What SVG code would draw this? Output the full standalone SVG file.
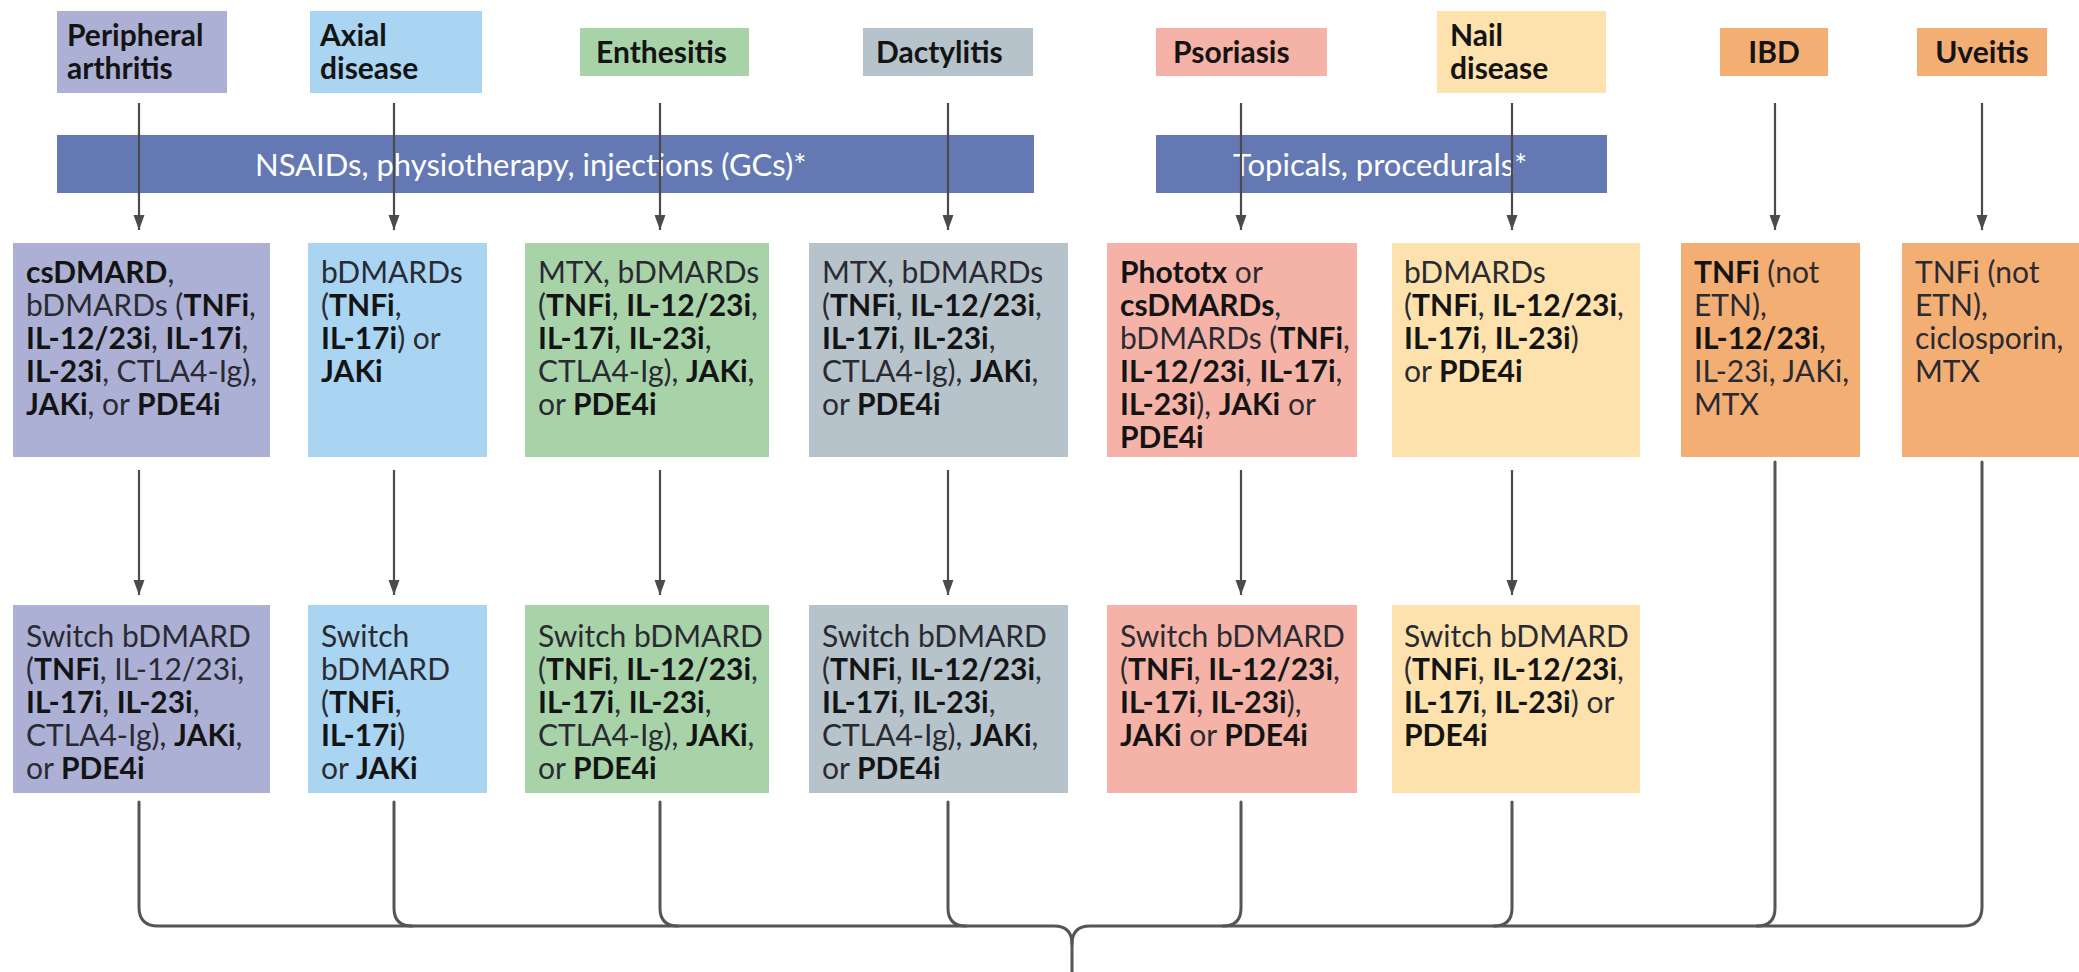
<svg xmlns="http://www.w3.org/2000/svg" width="2079" height="972" viewBox="0 0 2079 972">
<style>
text{font-family:Lato,"Open Sans","Liberation Sans",sans-serif;font-size:30px;fill:#2a2a32}
.b{font-weight:700;fill:#141414}
.h{font-weight:700;fill:#141414;font-size:30px}
.bar{fill:#6479b3}
.bt{fill:#ffffff;font-size:31px}
.pa{fill:#acb0d5}.ax{fill:#a9d5f2}.en{fill:#a8d3a9}.da{fill:#b7c3ca}
.ps{fill:#f5b3a8}.na{fill:#fde2ad}.or{fill:#f3ae74}
.arr{stroke:#4b4b4b;stroke-width:2.2;fill:none;marker-end:url(#ah)}
.ln{stroke:#555;stroke-width:3;fill:none;stroke-linecap:round}
</style>
<defs>
<marker id="ah" markerUnits="userSpaceOnUse" markerWidth="16" markerHeight="12" refX="15" refY="5.5" orient="auto" viewBox="0 0 16 11">
<path d="M0,0 L15,5.5 L0,11 Z" fill="#4b4b4b"/>
</marker>
</defs>
<rect width="2079" height="972" fill="#ffffff"/>

<!-- header nodes -->
<g id="h-peripheral"><rect class="pa" x="57" y="11" width="170" height="82"/><text class="h" x="67" y="46">Peripheral</text><text class="h" x="67" y="79">arthritis</text></g>
<g id="h-axial"><rect class="ax" x="310" y="11" width="172" height="82"/><text class="h" x="320" y="46">Axial</text><text class="h" x="320" y="79">disease</text></g>
<g id="h-enthesitis"><rect class="en" x="580" y="28" width="169" height="48"/><text class="h" x="596" y="63">Enthesitis</text></g>
<g id="h-dactylitis"><rect class="da" x="863" y="28" width="170" height="48"/><text class="h" x="876" y="63">Dactylitis</text></g>
<g id="h-psoriasis"><rect class="ps" x="1156" y="28" width="171" height="48"/><text class="h" x="1173" y="63">Psoriasis</text></g>
<g id="h-nail"><rect class="na" x="1437" y="11" width="169" height="82"/><text class="h" x="1450" y="46">Nail</text><text class="h" x="1450" y="79">disease</text></g>
<g id="h-ibd"><rect class="or" x="1720" y="28" width="108" height="48"/><text class="h" x="1774" y="63" text-anchor="middle">IBD</text></g>
<g id="h-uveitis"><rect class="or" x="1917" y="28" width="130" height="48"/><text class="h" x="1982" y="63" text-anchor="middle">Uveitis</text></g>

<!-- bars -->
<g id="bar-nsaids"><rect class="bar" x="57" y="135" width="977" height="58"/><text class="bt" x="255" y="176">NSAIDs, physiotherapy, injections (GCs)*</text></g>
<g id="bar-topicals"><rect class="bar" x="1156" y="135" width="451" height="58"/><text class="bt" x="1233" y="176">Topicals, procedurals*</text></g>

<!-- first-line treatment nodes -->
<g id="t1-peripheral"><rect class="pa" x="13" y="243" width="257" height="214"/>
<text x="26" y="283"><tspan class="b">csDMARD</tspan>,</text>
<text x="26" y="316">bDMARDs (<tspan class="b">TNFi</tspan>,</text>
<text x="26" y="349"><tspan class="b">IL-12/23i</tspan>, <tspan class="b">IL-17i</tspan>,</text>
<text x="26" y="382"><tspan class="b">IL-23i</tspan>, CTLA4-Ig),</text>
<text x="26" y="415"><tspan class="b">JAKi</tspan>, or <tspan class="b">PDE4i</tspan></text></g>
<g id="t1-axial"><rect class="ax" x="308" y="243" width="179" height="214"/>
<text x="321" y="283">bDMARDs</text>
<text x="321" y="316">(<tspan class="b">TNFi</tspan>,</text>
<text x="321" y="349"><tspan class="b">IL-17i</tspan>) or</text>
<text x="321" y="382"><tspan class="b">JAKi</tspan></text></g>
<g id="t1-enthesitis"><rect class="en" x="525" y="243" width="244" height="214"/>
<text x="538" y="283">MTX, bDMARDs</text>
<text x="538" y="316">(<tspan class="b">TNFi</tspan>, <tspan class="b">IL-12/23i</tspan>,</text>
<text x="538" y="349"><tspan class="b">IL-17i</tspan>, <tspan class="b">IL-23i</tspan>,</text>
<text x="538" y="382">CTLA4-Ig), <tspan class="b">JAKi</tspan>,</text>
<text x="538" y="415">or <tspan class="b">PDE4i</tspan></text></g>
<g id="t1-dactylitis"><rect class="da" x="809" y="243" width="259" height="214"/>
<text x="822" y="283">MTX, bDMARDs</text>
<text x="822" y="316">(<tspan class="b">TNFi</tspan>, <tspan class="b">IL-12/23i</tspan>,</text>
<text x="822" y="349"><tspan class="b">IL-17i</tspan>, <tspan class="b">IL-23i</tspan>,</text>
<text x="822" y="382">CTLA4-Ig), <tspan class="b">JAKi</tspan>,</text>
<text x="822" y="415">or <tspan class="b">PDE4i</tspan></text></g>
<g id="t1-psoriasis"><rect class="ps" x="1107" y="243" width="250" height="214"/>
<text x="1120" y="283"><tspan class="b">Phototx</tspan> or</text>
<text x="1120" y="316"><tspan class="b">csDMARDs</tspan>,</text>
<text x="1120" y="349">bDMARDs (<tspan class="b">TNFi</tspan>,</text>
<text x="1120" y="382"><tspan class="b">IL-12/23i</tspan>, <tspan class="b">IL-17i</tspan>,</text>
<text x="1120" y="415"><tspan class="b">IL-23i</tspan>), <tspan class="b">JAKi</tspan> or</text>
<text x="1120" y="448"><tspan class="b">PDE4i</tspan></text></g>
<g id="t1-nail"><rect class="na" x="1392" y="243" width="248" height="214"/>
<text x="1404" y="283">bDMARDs</text>
<text x="1404" y="316">(<tspan class="b">TNFi</tspan>, <tspan class="b">IL-12/23i</tspan>,</text>
<text x="1404" y="349"><tspan class="b">IL-17i</tspan>, <tspan class="b">IL-23i</tspan>)</text>
<text x="1404" y="382">or <tspan class="b">PDE4i</tspan></text></g>
<g id="t1-ibd"><rect class="or" x="1681" y="243" width="179" height="214"/>
<text x="1694" y="283"><tspan class="b">TNFi</tspan> (not</text>
<text x="1694" y="316">ETN),</text>
<text x="1694" y="349"><tspan class="b">IL-12/23i</tspan>,</text>
<text x="1694" y="382">IL-23i, JAKi,</text>
<text x="1694" y="415">MTX</text></g>
<g id="t1-uveitis"><rect class="or" x="1902" y="243" width="177" height="214"/>
<text x="1915" y="283">TNFi (not</text>
<text x="1915" y="316">ETN),</text>
<text x="1915" y="349">ciclosporin,</text>
<text x="1915" y="382">MTX</text></g>

<!-- second-line nodes -->
<g id="t2-peripheral"><rect class="pa" x="13" y="605" width="257" height="188"/>
<text x="26" y="647">Switch bDMARD</text>
<text x="26" y="680">(<tspan class="b">TNFi</tspan>, IL-12/23i,</text>
<text x="26" y="713"><tspan class="b">IL-17i</tspan>, <tspan class="b">IL-23i</tspan>,</text>
<text x="26" y="746">CTLA4-Ig), <tspan class="b">JAKi</tspan>,</text>
<text x="26" y="779">or <tspan class="b">PDE4i</tspan></text></g>
<g id="t2-axial"><rect class="ax" x="308" y="605" width="179" height="188"/>
<text x="321" y="647">Switch</text>
<text x="321" y="680">bDMARD</text>
<text x="321" y="713">(<tspan class="b">TNFi</tspan>,</text>
<text x="321" y="746"><tspan class="b">IL-17i</tspan>)</text>
<text x="321" y="779">or <tspan class="b">JAKi</tspan></text></g>
<g id="t2-enthesitis"><rect class="en" x="525" y="605" width="244" height="188"/>
<text x="538" y="647">Switch bDMARD</text>
<text x="538" y="680">(<tspan class="b">TNFi</tspan>, <tspan class="b">IL-12/23i</tspan>,</text>
<text x="538" y="713"><tspan class="b">IL-17i</tspan>, <tspan class="b">IL-23i</tspan>,</text>
<text x="538" y="746">CTLA4-Ig), <tspan class="b">JAKi</tspan>,</text>
<text x="538" y="779">or <tspan class="b">PDE4i</tspan></text></g>
<g id="t2-dactylitis"><rect class="da" x="809" y="605" width="259" height="188"/>
<text x="822" y="647">Switch bDMARD</text>
<text x="822" y="680">(<tspan class="b">TNFi</tspan>, <tspan class="b">IL-12/23i</tspan>,</text>
<text x="822" y="713"><tspan class="b">IL-17i</tspan>, <tspan class="b">IL-23i</tspan>,</text>
<text x="822" y="746">CTLA4-Ig), <tspan class="b">JAKi</tspan>,</text>
<text x="822" y="779">or <tspan class="b">PDE4i</tspan></text></g>
<g id="t2-psoriasis"><rect class="ps" x="1107" y="605" width="250" height="188"/>
<text x="1120" y="647">Switch bDMARD</text>
<text x="1120" y="680">(<tspan class="b">TNFi</tspan>, <tspan class="b">IL-12/23i</tspan>,</text>
<text x="1120" y="713"><tspan class="b">IL-17i</tspan>, <tspan class="b">IL-23i</tspan>),</text>
<text x="1120" y="746"><tspan class="b">JAKi</tspan> or <tspan class="b">PDE4i</tspan></text></g>
<g id="t2-nail"><rect class="na" x="1392" y="605" width="248" height="188"/>
<text x="1404" y="647">Switch bDMARD</text>
<text x="1404" y="680">(<tspan class="b">TNFi</tspan>, <tspan class="b">IL-12/23i</tspan>,</text>
<text x="1404" y="713"><tspan class="b">IL-17i</tspan>, <tspan class="b">IL-23i</tspan>) or</text>
<text x="1404" y="746"><tspan class="b">PDE4i</tspan></text></g>

<!-- connectors -->
<g id="connectors">
<line class="arr" x1="139" y1="103" x2="139" y2="230"/>
<line class="arr" x1="394" y1="103" x2="394" y2="230"/>
<line class="arr" x1="660" y1="103" x2="660" y2="230"/>
<line class="arr" x1="948" y1="103" x2="948" y2="230"/>
<line class="arr" x1="1241" y1="103" x2="1241" y2="230"/>
<line class="arr" x1="1512" y1="103" x2="1512" y2="230"/>
<line class="arr" x1="1775" y1="103" x2="1775" y2="230"/>
<line class="arr" x1="1982" y1="103" x2="1982" y2="230"/>
<line class="arr" x1="139" y1="470" x2="139" y2="595"/>
<line class="arr" x1="394" y1="470" x2="394" y2="595"/>
<line class="arr" x1="660" y1="470" x2="660" y2="595"/>
<line class="arr" x1="948" y1="470" x2="948" y2="595"/>
<line class="arr" x1="1241" y1="470" x2="1241" y2="595"/>
<line class="arr" x1="1512" y1="470" x2="1512" y2="595"/>
<path class="ln" d="M139,802 V907 Q139,926 158,926 H1054 Q1072,926 1072,944 V972"/>
<path class="ln" d="M1982,462 V907 Q1982,926 1963,926 H1090 Q1072,926 1072,944"/>
<path class="ln" d="M394,802 V908 Q394,926 412,926"/>
<path class="ln" d="M660,802 V908 Q660,926 678,926"/>
<path class="ln" d="M948,802 V908 Q948,926 966,926"/>
<path class="ln" d="M1241,802 V908 Q1241,926 1223,926"/>
<path class="ln" d="M1512,802 V908 Q1512,926 1494,926"/>
<path class="ln" d="M1775,462 V908 Q1775,926 1757,926"/>
</g>
</svg>
